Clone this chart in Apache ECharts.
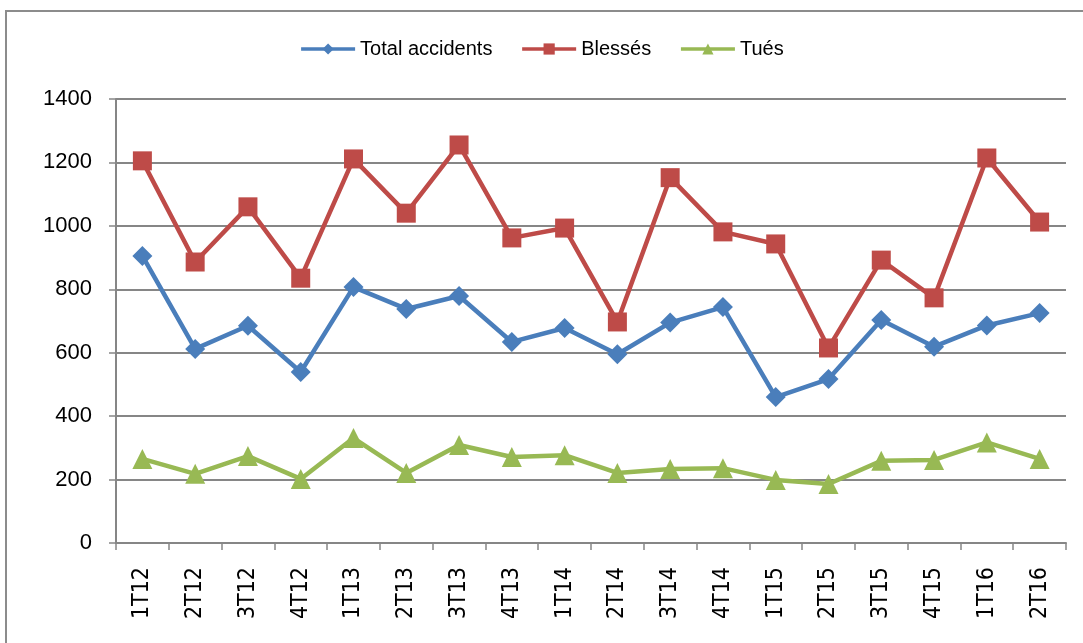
<!DOCTYPE html>
<html>
<head>
<meta charset="utf-8">
<script src="https://cdn.jsdelivr.net/npm/echarts@6/dist/echarts.min.js"></script>
<style>
  html, body { margin: 0; padding: 0; background: #fff; }
  #frame { position: absolute; left: 5px; top: 10px; width: 1090px; height: 650px; border: 2px solid #8c8c8c; box-sizing: border-box; }
  #chart { position: absolute; left: 0; top: 0; width: 1083px; height: 643px; }
</style>
</head>
<body>
<div id="frame"></div>
<div id="chart"></div>
<script>
// trimestres
const quarters = ['1T12', '2T12', '3T12', '4T12', '1T13', '2T13', '3T13', '4T13', '1T14',
  '2T14', '3T14', '4T14', '1T15', '2T15', '3T15', '4T15', '1T16', '2T16'];
const totalAccidents = [905, 612, 685, 539, 807, 738, 779, 634, 678, 595, 695, 744, 460, 517, 703, 619, 686, 725];
const blesses = [1205, 886, 1060, 835, 1211, 1040, 1255, 962, 993, 697, 1152, 981, 943, 615, 892, 773, 1214, 1012];
const tues = [265, 218, 274, 202, 331, 221, 309, 271, 277, 221, 233, 236, 199, 186, 259, 262, 317, 265];
const yTicks = { min: 0, max: 1400, interval: 200 };

const axisGray = '#868686';

let myChart = echarts.init(document.getElementById('chart'));
let option = {
  animation: false,
  legend: {
    top: 34,
    left: 'center',
    itemWidth: 54,
    itemHeight: 14,
    itemGap: 28,
    lineStyle: { width: 3.5 },
    textStyle: { fontFamily: 'Liberation Sans', fontSize: 20, color: '#000' },
    data: ['Total accidents', 'Blessés', 'Tués']
  },
  grid: { left: 116, right: 17, top: 99, bottom: 100 },
  xAxis: {
    type: 'category',
    data: quarters,
    boundaryGap: true,
    axisLine: { lineStyle: { color: axisGray, width: 2 } },
    axisTick: { show: true, length: 7, lineStyle: { color: axisGray, width: 1.5 } },
    axisLabel: { rotate: 90, margin: 24, fontFamily: 'DejaVu Sans Condensed, DejaVu Sans', fontSize: 23, color: '#000' }
  },
  yAxis: {
    type: 'value',
    min: yTicks.min,
    max: yTicks.max,
    interval: yTicks.interval,
    axisLine: { show: true, lineStyle: { color: axisGray, width: 2 } },
    axisTick: { show: true, inside: false, length: 7, lineStyle: { color: axisGray, width: 1.5 } },
    axisLabel: { margin: 24, fontFamily: 'Liberation Sans', fontSize: 22, color: '#000', formatter: v => String(v) },
    splitLine: { lineStyle: { color: axisGray, width: 2 } }
  },
  series: [
    {
      name: 'Total accidents',
      type: 'line',
      data: totalAccidents,
      symbol: 'diamond',
      symbolSize: 20,
      color: '#4A7EBB',
      lineStyle: { width: 4.5 }
    },
    {
      name: 'Blessés',
      type: 'line',
      data: blesses,
      symbol: 'rect',
      symbolSize: 19,
      color: '#BE4B48',
      lineStyle: { width: 4.5 }
    },
    {
      name: 'Tués',
      type: 'line',
      data: tues,
      symbol: 'triangle',
      symbolSize: 20,
      color: '#98B954',
      lineStyle: { width: 4.5 }
    }
  ]
};
myChart.setOption(option);
</script>
</body>
</html>
